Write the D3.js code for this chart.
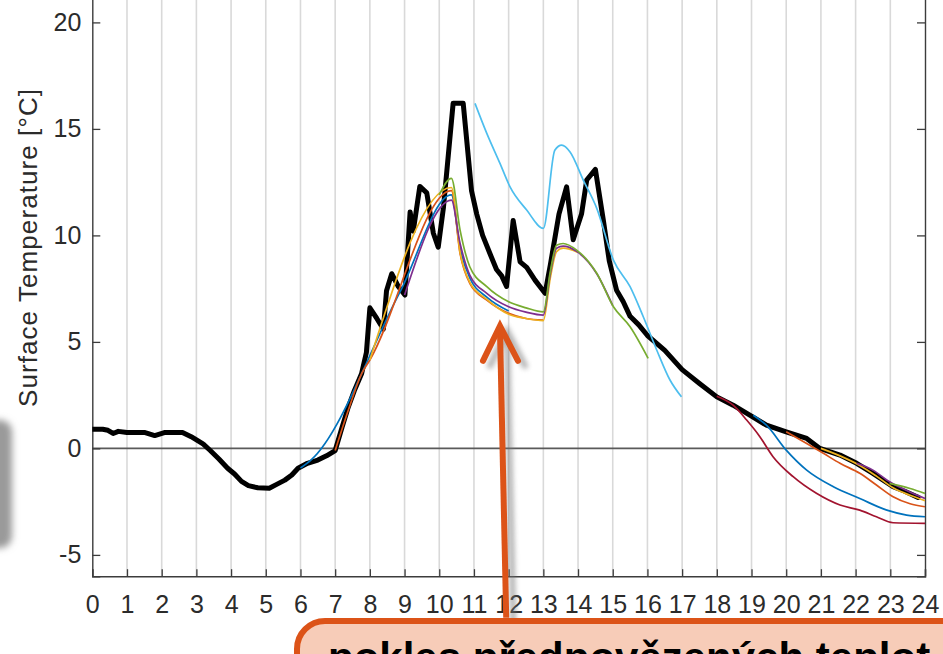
<!DOCTYPE html>
<html>
<head>
<meta charset="utf-8">
<script src="https://cdn.jsdelivr.net/npm/d3@7"></script>
<style>
  html, body { margin: 0; padding: 0; background: #fff; overflow: hidden; }
  svg { display: block; font-family: "Liberation Sans", Arial, sans-serif; }
</style>
</head>
<body>
<svg id="chart" width="943" height="654"></svg>
<script>
// Hour axis and temperature ticks
const hourTicks = d3.range(0, 25);
const tempTicks = [-5, 0, 5, 10, 15, 20];

// Measured surface temperature [hour, °C]
const measured = [
  [0, 0.9], [0.3, 0.9], [0.45, 0.85], [0.6, 0.7], [0.75, 0.8], [1.0, 0.75], [1.5, 0.75],
  [1.8, 0.6], [2.1, 0.75], [2.6, 0.75], [2.85, 0.55], [3.05, 0.35], [3.2, 0.2], [3.4, -0.1],
  [3.65, -0.5], [3.9, -0.93], [4.1, -1.2], [4.3, -1.55], [4.5, -1.75], [4.77, -1.85],
  [5.1, -1.87], [5.3, -1.7], [5.55, -1.49], [5.75, -1.25], [5.93, -0.93], [6.2, -0.7],
  [6.5, -0.55], [6.75, -0.35], [7.0, -0.1], [7.2, 1.0], [7.38, 1.95], [7.55, 2.7],
  [7.76, 3.5], [7.9, 4.5], [8.0, 6.6], [8.2, 6.1], [8.39, 5.6], [8.48, 7.4], [8.63, 8.2],
  [8.82, 7.6], [9.01, 7.2], [9.16, 11.1], [9.25, 10.2], [9.44, 12.3], [9.64, 12.0],
  [9.83, 10.1], [9.97, 9.45], [10.12, 11.3], [10.4, 16.2], [10.69, 16.2], [10.93, 12.1],
  [11.08, 11.0], [11.25, 10.0], [11.46, 9.15], [11.65, 8.4], [11.8, 8.1], [11.94, 7.6],
  [12.13, 10.7], [12.33, 8.76], [12.52, 8.5], [12.76, 7.9], [13.05, 7.28], [13.2, 8.6],
  [13.45, 11.0], [13.67, 12.28], [13.86, 9.8], [14.1, 11.0], [14.25, 12.6], [14.5, 13.1],
  [14.73, 10.7], [14.9, 8.8], [15.11, 7.43], [15.3, 6.9], [15.5, 6.2], [15.75, 5.8],
  [16.0, 5.3], [16.5, 4.6], [17.0, 3.7], [17.5, 3.05], [18.0, 2.42], [18.47, 2.03],
  [18.95, 1.56], [19.43, 1.09], [20.0, 0.78], [20.59, 0.47], [20.97, 0.0], [21.55, -0.31],
  [22.03, -0.7], [22.5, -1.17], [23.08, -1.8], [23.4, -2.0], [23.8, -2.3]
];

// Six-hour forecasts, one array per issue hour [hour, °C]
const fc06 = [[6.0, -0.92], [6.3, -0.55], [8.87, 7.35], [10.35, 11.9], [10.6, 9.4], [10.88, 8.0], [11.37, 7.1], [12.0, 6.45]];
const fc07 = [[7.0, -0.1], [7.38, 1.8], [7.76, 3.5], [8.0, 4.15], [10.35, 12.1], [10.6, 9.15], [10.88, 7.75], [11.37, 6.96], [12.0, 6.34], [12.5, 6.1], [13.0, 6.02]];
const fc08 = [[8.0, 4.15], [10.35, 12.25], [10.6, 9.2], [10.88, 7.8], [11.37, 7.0], [12.0, 6.3], [12.5, 6.1], [13.0, 6.0], [13.2, 8.0], [13.38, 9.23], [13.57, 9.4], [14.0, 9.2]];
const fc09 = [[9.0, 7.2], [10.35, 11.66], [10.6, 9.62], [10.88, 8.14], [11.37, 7.28], [12.0, 6.65], [12.5, 6.4], [13.0, 6.26], [13.2, 8.2], [13.38, 9.4], [13.57, 9.5], [13.96, 9.25], [14.54, 8.2], [15.0, 6.7]];
const fc10 = [[10.0, 11.9], [10.35, 12.68], [10.6, 10.25], [10.88, 8.53], [11.37, 7.59], [12.0, 6.88], [12.5, 6.6], [13.0, 6.41], [13.2, 8.3], [13.38, 9.54], [13.57, 9.62], [13.96, 9.31], [14.54, 8.22], [15.02, 6.65], [15.5, 5.71], [16.02, 4.23]];
const fc11 = [[11.03, 16.2], [11.37, 14.79], [11.75, 13.38], [12.04, 12.28], [12.52, 11.19], [13.0, 10.33], [13.33, 14.0], [13.53, 14.24], [13.77, 13.92], [14.15, 12.6], [14.54, 11.27], [15.02, 8.84], [15.5, 7.59], [15.88, 6.18], [16.27, 4.61], [16.65, 3.21], [16.98, 2.42]];
const fc18 = [[18.0, 2.45], [18.47, 2.03], [18.86, 1.33], [19.24, 0.55], [19.62, -0.39], [20.2, -1.33], [20.87, -2.11], [21.55, -2.66], [22.12, -2.9], [22.6, -3.21], [23.08, -3.49], [24.0, -3.52]];
const fc19 = [[19.05, 1.56], [19.43, 1.09], [20.0, -0.08], [20.59, -1.02], [21.36, -1.8], [22.12, -2.35], [22.9, -2.9], [23.47, -3.13], [24.0, -3.21]];
const fc20 = [[20.0, 0.78], [20.59, 0.23], [21.07, -0.23], [21.55, -0.7], [22.12, -1.17], [22.6, -1.72], [23.08, -2.27], [23.57, -2.6], [24.0, -2.74]];
const fc21 = [[21.0, 0.0], [21.55, -0.35], [22.12, -0.8], [22.6, -1.3], [23.08, -1.85], [23.57, -2.2], [24.0, -2.45]];
const fc22 = [[22.03, -0.7], [22.5, -1.02], [22.98, -1.57], [23.5, -2.0], [24.0, -2.35]];
const fc23 = [[22.98, -1.64], [23.57, -1.88], [24.0, -2.11]];

const forecasts = [fc06, fc07, fc08, fc09, fc10, fc11, fc18, fc19, fc20, fc21, fc22, fc23];
const forecastColors = ["#0072BD", "#D95319", "#EDB120", "#7E2F8E", "#77AC30", "#4DBEEE",
                        "#A2142F", "#0072BD", "#D95319", "#EDB120", "#7E2F8E", "#77AC30"];

const calloutText = "pokles předpovězených teplot";

const svg = d3.select("#chart");

const x = d3.scaleLinear().domain([0, 24]).range([92.3, 925]);
const y = d3.scaleLinear().domain([-6, 25]).range([576.2, -84.1]);

const defs = svg.append("defs");
defs.append("clipPath").attr("id", "plotClip")
  .append("rect")
  .attr("x", x(0)).attr("y", y(25))
  .attr("width", x(24) - x(0)).attr("height", y(-6) - y(25));
defs.append("filter").attr("id", "soft").attr("x", "-50%").attr("y", "-50%").attr("width", "200%").attr("height", "200%")
  .append("feGaussianBlur").attr("stdDeviation", 3.5);
defs.append("filter").attr("id", "shade").attr("x", "-50%").attr("y", "-50%").attr("width", "200%").attr("height", "200%")
  .append("feGaussianBlur").attr("stdDeviation", 2.5);

// grey panel edge on the far left
svg.append("rect")
  .attr("x", -40).attr("y", 420).attr("width", 52).attr("height", 128).attr("rx", 12)
  .attr("fill", "#9a9a9a").attr("filter", "url(#soft)");

// vertical hour grid
svg.append("g").selectAll("line").data(hourTicks.slice(1, -1)).join("line")
  .attr("x1", d => x(d)).attr("x2", d => x(d))
  .attr("y1", y(25)).attr("y2", y(-6))
  .attr("stroke", "#d9d9d9").attr("stroke-width", 1.6);

// zero reference line
svg.append("line")
  .attr("x1", x(0)).attr("x2", x(24)).attr("y1", y(0)).attr("y2", y(0))
  .attr("stroke", "#5a5a5a").attr("stroke-width", 1.6);

// axes
const axisColor = "#3c3c3c";
const fmt = d => String(d); // plain hyphen-minus for negatives
const xAxis = d3.axisBottom(x).tickValues(hourTicks).tickSize(-7).tickFormat(fmt);
const gx = svg.append("g").attr("transform", `translate(0,${y(-6)})`).call(xAxis);
const yAxis = d3.axisLeft(y).tickValues(tempTicks).tickSize(-8).tickPadding(11).tickFormat(fmt);
const gy = svg.append("g").attr("transform", `translate(${x(0)},0)`).call(yAxis);
const yAxisR = d3.axisRight(y).tickValues(tempTicks).tickSize(-8).tickFormat("");
const gyr = svg.append("g").attr("transform", `translate(${x(24)},0)`).call(yAxisR);

[gx, gy, gyr].forEach(g => {
  g.select(".domain").attr("stroke", axisColor).attr("stroke-width", 1.4);
  g.selectAll(".tick line").attr("stroke", axisColor).attr("stroke-width", 1.3);
  g.selectAll(".tick text").attr("fill", "#2b2b2b").attr("font-size", 25)
    .attr("font-family", "'Liberation Sans', Arial, sans-serif");
});
gx.selectAll(".tick text").attr("dy", "0.71em").attr("y", 19);

// y-axis title
svg.append("text")
  .attr("transform", `translate(37,248) rotate(-90)`)
  .attr("text-anchor", "middle")
  .attr("font-size", 26).attr("fill", "#2b2b2b")
  .attr("textLength", 318).attr("lengthAdjust", "spacing")
  .text("Surface Temperature [°C]");

const plot = svg.append("g").attr("clip-path", "url(#plotClip)");

const lineMeasured = d3.line().x(d => x(d[0])).y(d => y(d[1]));
const lineForecast = d3.line().x(d => x(d[0])).y(d => y(d[1])).curve(d3.curveMonotoneX);

plot.append("path").datum(measured)
  .attr("d", lineMeasured)
  .attr("fill", "none").attr("stroke", "#000").attr("stroke-width", 5)
  .attr("stroke-linejoin", "round").attr("stroke-linecap", "round");

plot.selectAll("path.fc").data(forecasts).join("path")
  .attr("class", "fc")
  .attr("d", lineForecast)
  .attr("fill", "none")
  .attr("stroke", (d, i) => forecastColors[i])
  .attr("stroke-width", 1.7);

// callout arrow pointing at the forecast drop
const tip = [x(11.75), y(5.75)];
const base = [x(11.93), y(-7.95)];
const head = [[tip[0] - 17, tip[1] + 35], tip, [tip[0] + 18, tip[1] + 35]];
const arrow = svg.append("g");
const shadow = arrow.append("g").attr("transform", "translate(7,5)").attr("filter", "url(#shade)").attr("opacity", 0.55);
[shadow, arrow].forEach((g, k) => {
  const col = k === 0 ? "#777" : "#dc5318";
  g.append("line").attr("x1", base[0]).attr("y1", base[1]).attr("x2", tip[0]).attr("y2", tip[1] + 4)
    .attr("stroke", col).attr("stroke-width", 6);
  g.append("polyline").attr("points", head.map(p => p.join(",")).join(" "))
    .attr("fill", "none").attr("stroke", col).attr("stroke-width", 6)
    .attr("stroke-linejoin", "miter").attr("stroke-linecap", "round");
});

// callout box
svg.append("rect")
  .attr("x", 297).attr("y", 621).attr("width", 700).attr("height", 120).attr("rx", 28)
  .attr("fill", "#f7ccb8").attr("stroke", "#dc5318").attr("stroke-width", 6);
svg.append("text")
  .attr("x", 328).attr("y", 672)
  .attr("font-size", 42).attr("font-weight", "bold").attr("fill", "#000")
  .text(calloutText);
</script>
</body>
</html>
